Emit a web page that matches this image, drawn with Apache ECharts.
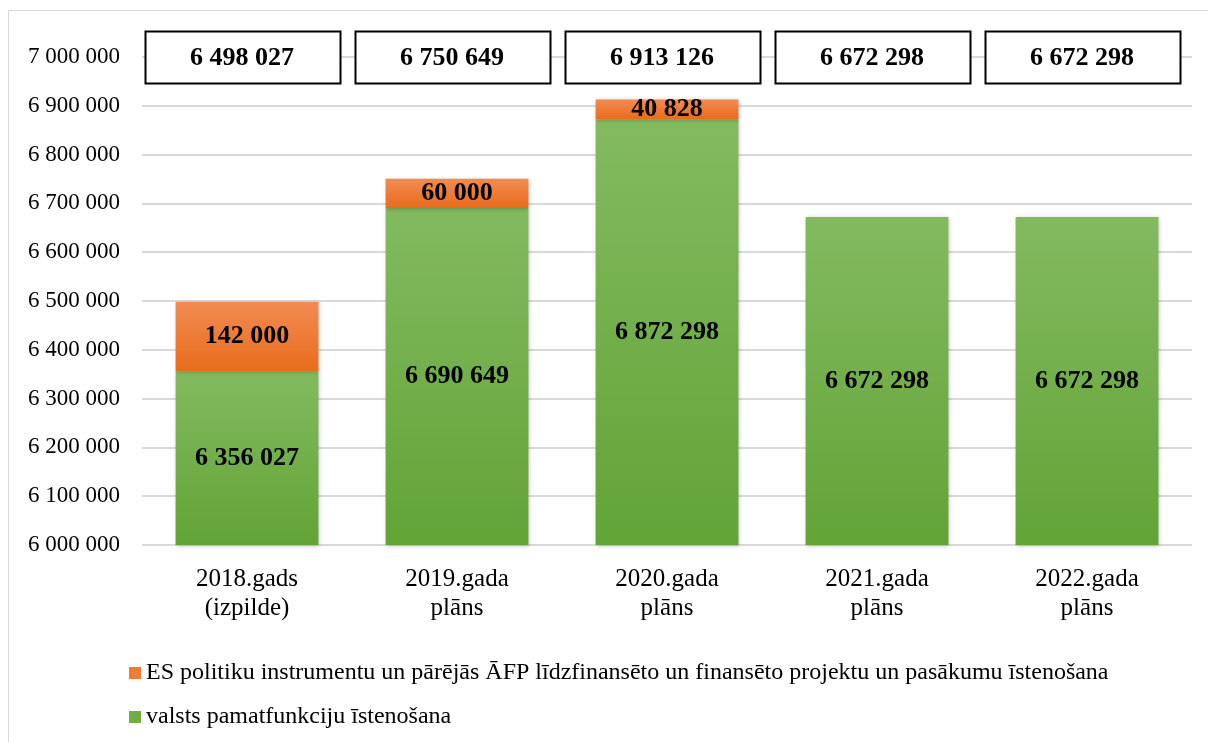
<!DOCTYPE html>
<html><head><meta charset="utf-8">
<script src="https://cdn.jsdelivr.net/npm/echarts@6/dist/echarts.min.js"></script>
<style>html,body{margin:0;padding:0;background:#fff}#c{width:1208px;height:742px}</style>
</head><body><div id="c"></div>
<script>
const categories = ['2018.gads\n(izpilde)', '2019.gada\nplāns', '2020.gada\nplāns', '2021.gada\nplāns', '2022.gada\nplāns'];
const baseValues = [6356027, 6690649, 6872298, 6672298, 6672298];
const euValues = [142000, 60000, 40828, null, null];
const totals = [6498027, 6750649, 6913126, 6672298, 6672298];
const yTicks = { min: 6000000, max: 7000000, interval: 100000 };
const seriesNames = ['ES politiku instrumentu un pārējās ĀFP līdzfinansēto un finansēto projektu un pasākumu īstenošana', 'valsts pamatfunkciju īstenošana'];

const fmt = v => String(Math.round(v)).replace(/\B(?=(\d{3})+(?!\d))/g, ' ');
const FONT = '"Liberation Serif", "Times New Roman", serif';
const chart = echarts.init(document.getElementById('c'));
const greenGrad = new echarts.graphic.LinearGradient(0, 0, 0, 1, [{offset: 0, color: '#83ba60'}, {offset: 1, color: '#62a436'}]);
const orangeGrad = new echarts.graphic.LinearGradient(0, 0, 0, 1, [{offset: 0, color: '#f28b52'}, {offset: 1, color: '#e86c1c'}]);
const shadow = { shadowColor: 'rgba(0,0,0,0.25)', shadowBlur: 4, shadowOffsetX: 1, shadowOffsetY: 1 };
chart.setOption({
  animation: false,
  graphic: [{ type: 'rect', shape: { x: 8.5, y: 10.5, width: 1300, height: 800 }, style: { fill: 'none', stroke: '#d9d9d9', lineWidth: 1 }, z: -1 }],
  grid: { left: 142, right: 16, top: 57, bottom: 197 },
  legend: {
    orient: 'vertical', left: 124, top: 656, itemGap: 20, itemWidth: 12, itemHeight: 12,
    icon: 'rect',
    textStyle: { fontFamily: FONT, fontSize: 24, color: '#000' },
    data: [{ name: seriesNames[0], itemStyle: { color: '#f07d35' } }, { name: seriesNames[1], itemStyle: { color: '#6fae47' } }]
  },
  xAxis: {
    type: 'category', data: categories,
    axisLine: { show: false }, axisTick: { show: false },
    axisLabel: { fontFamily: FONT, fontSize: 25, color: '#000', lineHeight: 29, margin: 20 }
  },
  yAxis: {
    type: 'value', min: yTicks.min, max: yTicks.max, interval: yTicks.interval,
    axisLine: { show: false }, axisTick: { show: false },
    splitLine: { lineStyle: { color: '#d9d9d9', width: 2 } },
    axisLabel: { fontFamily: FONT, fontSize: 23, color: '#000', margin: 22, formatter: fmt }
  },
  series: [
    { name: seriesNames[1], type: 'bar', stack: 'a', data: baseValues, barCategoryGap: '32%',
      itemStyle: Object.assign({ color: greenGrad }, shadow),
      label: { show: true, position: 'inside', fontFamily: FONT, fontSize: 26, fontWeight: 'bold', color: '#000',
        formatter: p => fmt(p.value) } },
    { name: seriesNames[0], type: 'bar', stack: 'a', data: euValues,
      itemStyle: Object.assign({ color: orangeGrad }, shadow),
      label: { show: true, position: 'inside', fontFamily: FONT, fontSize: 26, fontWeight: 'bold', color: '#000',
        formatter: p => p.value == null ? '' : fmt(p.value) } },
    { name: 'totals', type: 'custom', z: 5, silent: true,
      data: totals.map((t, i) => [i, yTicks.max, t]),
      renderItem: (params, api) => {
        const c = api.coord([api.value(0), api.value(1)]);
        const w = 195, h = 52, cx = c[0] - 5;
        return {
          type: 'group',
          children: [
            { type: 'rect', shape: { x: Math.round(cx - w / 2) + 0.5, y: Math.round(c[1] - h / 2) + 0.5, width: w, height: h },
              style: { fill: '#fff', stroke: '#000', lineWidth: 2 } },
            { type: 'text', x: cx, y: c[1] + 1,
              style: { text: fmt(api.value(2)), fontFamily: FONT, fontSize: 26, fontWeight: 'bold', fill: '#000', align: 'center', verticalAlign: 'middle' } }
          ]
        };
      } }
  ]
});
</script></body></html>
